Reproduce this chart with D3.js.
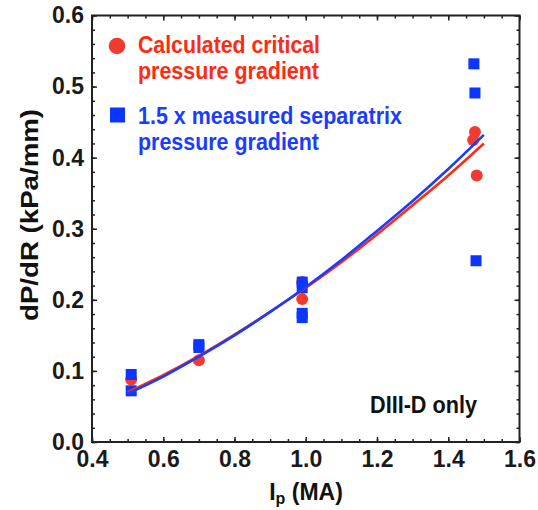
<!DOCTYPE html>
<html lang="en">
<head>
<meta charset="UTF-8">
<title>dPdR-vs-Ip</title>
<script src="https://cdn.jsdelivr.net/npm/d3@7/dist/d3.min.js"></script>
<style>
    body { margin: 0; background: #fff; }
    svg text { font-family: "Liberation Sans", Arial, sans-serif; font-weight: bold; }
    .axis text { font-size: 23px; fill: #1a1a1a; }
    .axis line { stroke: #222; stroke-width: 1.5; }
</style>
</head>
<body>
<svg id="chart"></svg>
<script>
    var width = 538, height = 510;

    // calculated critical pressure gradient (red circles)
    var critIp = [0.51, 0.70, 0.99, 0.99, 1.475, 1.47, 1.48];
    var critDp = [0.088, 0.115, 0.225, 0.201, 0.436, 0.425, 0.375];

    // 1.5 x measured separatrix pressure gradient (blue squares)
    var sepIp = [0.51, 0.51, 0.70, 0.70, 0.99, 0.99, 0.99, 0.99, 1.472, 1.475, 1.478];
    var sepDp = [0.095, 0.072, 0.137, 0.133, 0.225, 0.217, 0.181, 0.175, 0.532, 0.491, 0.255];

    // fit curves
    var fitIp = [0.5, 0.6, 0.7, 0.8, 0.9, 1.0, 1.1, 1.2, 1.3, 1.4, 1.5];
    var critFit = [0.070, 0.094, 0.121, 0.151, 0.183, 0.217, 0.253, 0.292, 0.333, 0.375, 0.420];
    var sepFit = [0.068, 0.092, 0.120, 0.150, 0.183, 0.218, 0.256, 0.297, 0.339, 0.384, 0.432];

    var xTicks = [0.4, 0.6, 0.8, 1.0, 1.2, 1.4, 1.6];
    var yTicks = [0.0, 0.1, 0.2, 0.3, 0.4, 0.5, 0.6];

    var red = '#f23b30', redLine = '#ff2a12', blue = '#0a36ff', blueLine = '#1a3cff';

    // plot box
    var plotL = 92, plotR = 519.5, plotT = 15.5, plotB = 442;

    var svg = d3.select('#chart')
        .attr('width', width)
        .attr('height', height);

    var x = d3.scaleLinear().domain([0.4, 1.6]).range([plotL, plotR]);
    var y = d3.scaleLinear().domain([0, 0.6]).range([plotB, plotT]);

    // minor ticks first, all four sides
    function minor(axis, tr) {
        svg.append('g').attr('class', 'axis').attr('transform', tr)
            .call(axis.tickSize(-3).tickFormat(''))
            .select('.domain').remove();
    }
    minor(d3.axisBottom(x).tickValues(x.ticks(24)), 'translate(0,' + plotB + ')');
    minor(d3.axisTop(x).tickValues(x.ticks(24)), 'translate(0,' + plotT + ')');
    minor(d3.axisLeft(y).tickValues(y.ticks(30)), 'translate(' + plotL + ',0)');
    minor(d3.axisRight(y).tickValues(y.ticks(30)), 'translate(' + plotR + ',0)');

    // major ticks with labels
    var gx = svg.append('g').attr('class', 'axis')
        .attr('transform', 'translate(0,' + plotB + ')')
        .call(d3.axisBottom(x).tickValues(xTicks).tickSize(-5).tickPadding(9).tickFormat(d3.format('.1f')));
    gx.select('.domain').remove();

    var gy = svg.append('g').attr('class', 'axis')
        .attr('transform', 'translate(' + plotL + ',0)')
        .call(d3.axisLeft(y).tickValues(yTicks).tickSize(-5).tickPadding(8).tickFormat(d3.format('.1f')));
    gy.select('.domain').remove();

    svg.append('g').attr('class', 'axis')
        .attr('transform', 'translate(0,' + plotT + ')')
        .call(d3.axisTop(x).tickValues(xTicks).tickSize(-5).tickFormat(''))
        .select('.domain').remove();
    svg.append('g').attr('class', 'axis')
        .attr('transform', 'translate(' + plotR + ',0)')
        .call(d3.axisRight(y).tickValues(yTicks).tickSize(-5).tickFormat(''))
        .select('.domain').remove();

    // frame
    svg.append('rect')
        .attr('x', plotL).attr('y', plotT)
        .attr('width', plotR - plotL).attr('height', plotB - plotT)
        .attr('fill', 'none').attr('stroke', '#222').attr('stroke-width', 2);

    // markers
    svg.append('g').selectAll('circle')
        .data(critIp)
        .enter().append('circle')
        .attr('cx', function (d) { return x(d); })
        .attr('cy', function (d, i) { return y(critDp[i]); })
        .attr('r', 6)
        .attr('fill', red);

    var sq = 11;
    svg.append('g').selectAll('rect')
        .data(sepIp)
        .enter().append('rect')
        .attr('x', function (d) { return x(d) - sq / 2; })
        .attr('y', function (d, i) { return y(sepDp[i]) - sq / 2; })
        .attr('width', sq).attr('height', sq)
        .attr('fill', blue);

    // fit lines
    var line = d3.line()
        .x(function (d) { return x(d[0]); })
        .y(function (d) { return y(d[1]); })
        .curve(d3.curveMonotoneX);

    svg.append('path')
        .datum(d3.zip(fitIp, critFit))
        .attr('d', line)
        .attr('fill', 'none').attr('stroke', redLine).attr('stroke-width', 2.6);
    svg.append('path')
        .datum(d3.zip(fitIp, sepFit))
        .attr('d', line)
        .attr('fill', 'none').attr('stroke', blueLine).attr('stroke-width', 2.6);

    // legend
    svg.append('circle').attr('cx', 117).attr('cy', 46).attr('r', 8.3).attr('fill', red);
    svg.append('rect').attr('x', 110).attr('y', 107.5).attr('width', 15).attr('height', 15).attr('fill', blue);

    function label(txt, tx, ty, len, col, size) {
        return svg.append('text')
            .attr('x', tx).attr('y', ty)
            .attr('font-size', size)
            .attr('fill', col)
            .attr('textLength', len)
            .attr('lengthAdjust', 'spacingAndGlyphs')
            .text(txt);
    }
    label('Calculated critical', 138, 53, 182, redLine, 23.5);
    label('pressure gradient', 138, 79, 181, redLine, 23.5);
    label('1.5 x measured separatrix', 138, 123.5, 264, blueLine, 23.5);
    label('pressure gradient', 138, 150, 181, blueLine, 23.5);

    label('DIII-D only', 370, 413, 107, '#111', 23);

    // axis titles
    var xt = svg.append('text')
        .attr('x', 306).attr('y', 500)
        .attr('text-anchor', 'middle')
        .attr('font-size', 23)
        .attr('fill', '#111');
    xt.append('tspan').text('I');
    xt.append('tspan').attr('font-size', 16).attr('dy', 4).text('p');
    xt.append('tspan').attr('dy', -4).text(' (MA)');

    svg.append('text')
        .attr('transform', 'translate(38,215) rotate(-90)')
        .attr('text-anchor', 'middle')
        .attr('font-size', 24)
        .attr('fill', '#111')
        .attr('textLength', 212)
        .attr('lengthAdjust', 'spacingAndGlyphs')
        .text('dP/dR (kPa/mm)');
</script>
</body>
</html>
